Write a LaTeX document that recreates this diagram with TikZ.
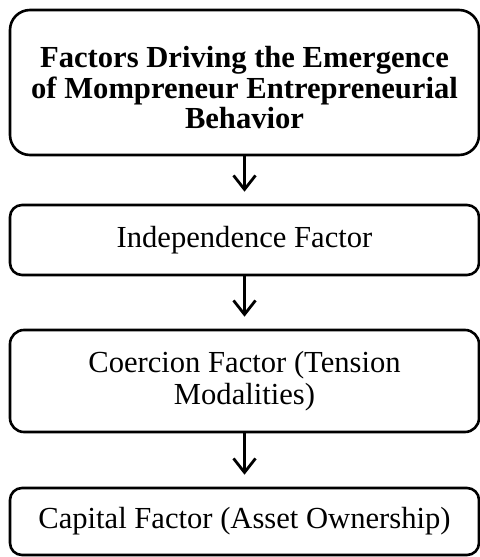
\documentclass[tikz,border=0pt]{standalone}
\usepackage{fontspec}
\setmainfont{Liberation Serif}
\usetikzlibrary{positioning,arrows.meta}

\begin{document}
\begin{tikzpicture}[x=0.5pt, y=-0.5pt,
  >={Straight Barb[length=7pt,width=11pt]},
  factor/.style={draw, line width=1.3pt, rounded corners=6pt, minimum width=234.5pt,
    inner sep=0pt, align=center, font=\fontsize{15.3}{16}\selectfont},
  flow/.style={->, line width=1.4pt, shorten >=6pt}]
\useasboundingbox (0,0) rectangle (480,557);

% factor boxes
\node[factor, rounded corners=10pt, minimum height=72.5pt,
  font=\bfseries\fontsize{15.3}{15.2}\selectfont] (F0) at (244.5,82.5)
  {\rule{0pt}{16pt}Factors Driving the Emergence\\of Mompreneur Entrepreneurial\\Behavior};
\node[factor, minimum height=35pt] (F1) at (244.5,240) {Independence Factor};
\node[factor, rounded corners=7pt, minimum height=51pt] (F2) at (244.5,381)
  {Coercion Factor (Tension\\Modalities)};
\node[factor, minimum height=33.5pt] (F3) at (244.5,521.5) {Capital Factor (Asset Ownership)};

% arrows
\draw[flow] (F0) -- (F1);
\draw[flow] (F1) -- (F2);
\draw[flow] (F2) -- (F3);
\end{tikzpicture}
\end{document}
